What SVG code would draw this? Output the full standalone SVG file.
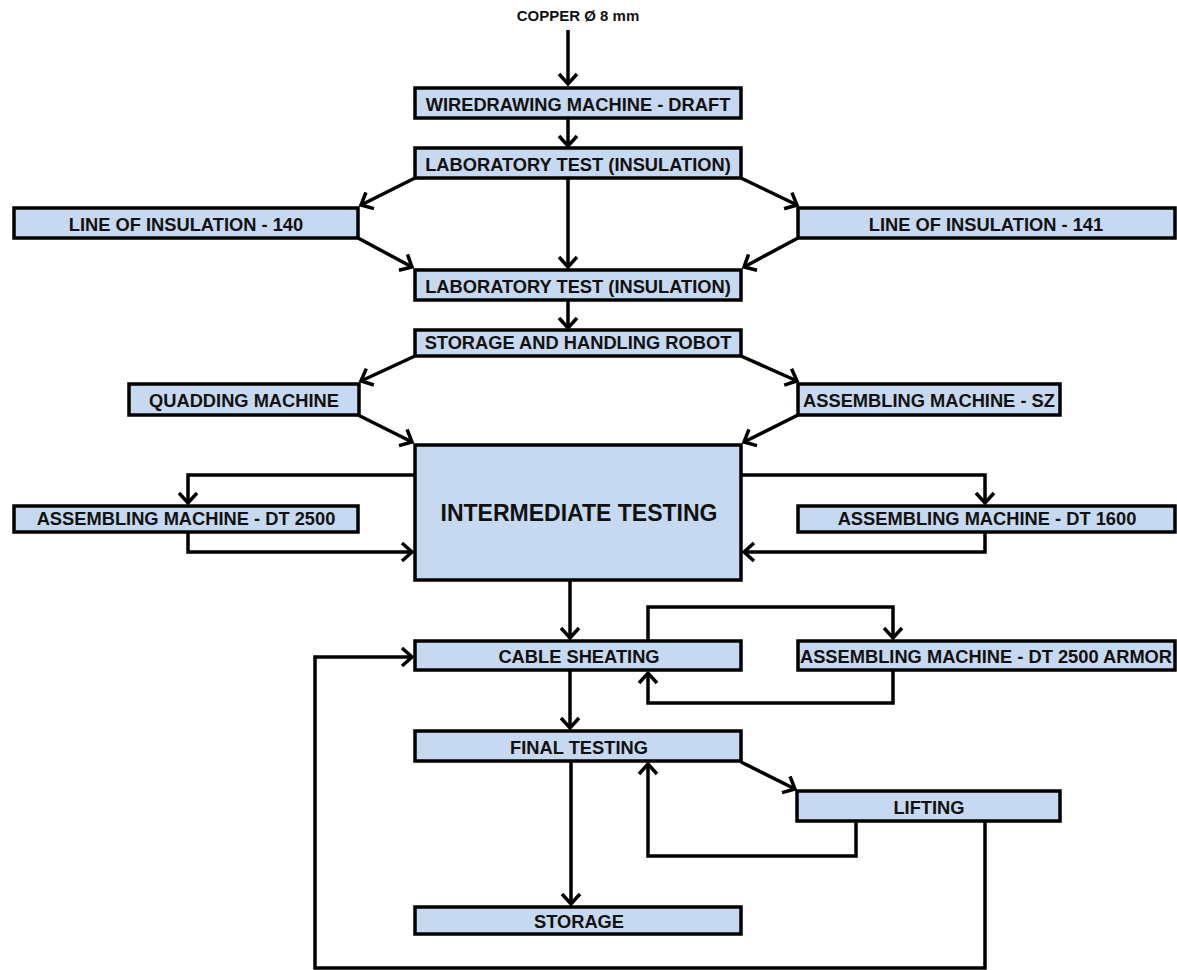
<svg xmlns="http://www.w3.org/2000/svg" width="1177" height="970" viewBox="0 0 1177 970">
<style>
.box{fill:#c6d9f1;stroke:#000;stroke-width:3.5}
.t{font-family:"Liberation Sans",Arial,sans-serif;font-weight:bold;font-size:18.3px;fill:#111;text-anchor:middle}
.c{fill:none;stroke:#000;stroke-width:3.5;stroke-linejoin:miter}
</style>
<defs>
<marker id="ah" markerUnits="userSpaceOnUse" viewBox="-13 -11 17 22" markerWidth="17" markerHeight="22" refX="0" refY="0" orient="auto">
<path d="M-10,-9 L0,0 L-10,9" fill="none" stroke="#000" stroke-width="3.5"/>
</marker>
</defs>
<text x="578" y="21" class="t" style="font-size:15px">COPPER Ø 8 mm</text>
<g id="connectors">
<path class="c" marker-end="url(#ah)" d="M568,30 L568,84"/>
<path class="c" marker-end="url(#ah)" d="M568,118 L568,146"/>
<path class="c" marker-end="url(#ah)" d="M415,178 L361,205"/>
<path class="c" marker-end="url(#ah)" d="M741,178 L797,205"/>
<path class="c" marker-end="url(#ah)" d="M568,178 L568,267"/>
<path class="c" marker-end="url(#ah)" d="M358,238 L412,267"/>
<path class="c" marker-end="url(#ah)" d="M798,238 L744,267"/>
<path class="c" marker-end="url(#ah)" d="M568,300 L568,328"/>
<path class="c" marker-end="url(#ah)" d="M415,356 L361,381"/>
<path class="c" marker-end="url(#ah)" d="M741,356 L797,381"/>
<path class="c" marker-end="url(#ah)" d="M358,415 L412,442"/>
<path class="c" marker-end="url(#ah)" d="M798,415 L744,442"/>
<path class="c" marker-end="url(#ah)" d="M415,475 L188,475 L188,503"/>
<path class="c" marker-end="url(#ah)" d="M188,532 L188,552 L412,552"/>
<path class="c" marker-end="url(#ah)" d="M741,475 L985,475 L985,503"/>
<path class="c" marker-end="url(#ah)" d="M985,532 L985,552 L744,552"/>
<path class="c" marker-end="url(#ah)" d="M570,580 L570,638"/>
<path class="c" marker-end="url(#ah)" d="M648,641 L648,607 L893,607 L893,638"/>
<path class="c" marker-end="url(#ah)" d="M893,670 L893,703 L648,703 L648,673"/>
<path class="c" marker-end="url(#ah)" d="M570,670 L570,728"/>
<path class="c" marker-end="url(#ah)" d="M741,762 L795,789"/>
<path class="c" marker-end="url(#ah)" d="M856,821 L856,856 L648,856 L648,764"/>
<path class="c" marker-end="url(#ah)" d="M571,761 L571,904"/>
<path class="c" marker-end="url(#ah)" d="M985,821 L985,968 L315,968 L315,657 L412,657"/>
</g>
<g id="wiredrawing"><rect class="box" x="415" y="88" width="326" height="30"/><text class="t" x="578" y="111">WIREDRAWING MACHINE - DRAFT</text></g>
<g id="lab1"><rect class="box" x="415" y="148" width="326" height="30"/><text class="t" x="578" y="171">LABORATORY TEST (INSULATION)</text></g>
<g id="line140"><rect class="box" x="14" y="208" width="344" height="30"/><text class="t" x="186" y="231">LINE OF INSULATION - 140</text></g>
<g id="line141"><rect class="box" x="798" y="208" width="377" height="30"/><text class="t" x="986" y="231">LINE OF INSULATION - 141</text></g>
<g id="lab2"><rect class="box" x="415" y="270" width="326" height="30"/><text class="t" x="578" y="293">LABORATORY TEST (INSULATION)</text></g>
<g id="robot"><rect class="box" x="415" y="330" width="326" height="26"/><text class="t" x="578" y="349">STORAGE AND HANDLING ROBOT</text></g>
<g id="quadding"><rect class="box" x="129" y="384" width="230" height="31"/><text class="t" x="244" y="407">QUADDING MACHINE</text></g>
<g id="sz"><rect class="box" x="798" y="384" width="262" height="31"/><text class="t" x="929" y="407">ASSEMBLING MACHINE - SZ</text></g>
<g id="intermediate"><rect class="box" x="415" y="445" width="326" height="135"/><text class="t" x="579" y="521" style="font-size:23px">INTERMEDIATE TESTING</text></g>
<g id="dt2500"><rect class="box" x="14" y="506" width="344" height="26"/><text class="t" x="186" y="525">ASSEMBLING MACHINE - DT 2500</text></g>
<g id="dt1600"><rect class="box" x="798" y="506" width="377" height="26"/><text class="t" x="987" y="525">ASSEMBLING MACHINE - DT 1600</text></g>
<g id="cable"><rect class="box" x="415" y="641" width="326" height="29"/><text class="t" x="579" y="663">CABLE SHEATING</text></g>
<g id="armor"><rect class="box" x="798" y="641" width="377" height="29"/><text class="t" x="986" y="663">ASSEMBLING MACHINE - DT 2500 ARMOR</text></g>
<g id="final"><rect class="box" x="415" y="731" width="326" height="30"/><text class="t" x="579" y="754">FINAL TESTING</text></g>
<g id="lifting"><rect class="box" x="797" y="791" width="263" height="30"/><text class="t" x="929" y="814">LIFTING</text></g>
<g id="storage"><rect class="box" x="415" y="907" width="326" height="27"/><text class="t" x="579" y="928">STORAGE</text></g>
</svg>
